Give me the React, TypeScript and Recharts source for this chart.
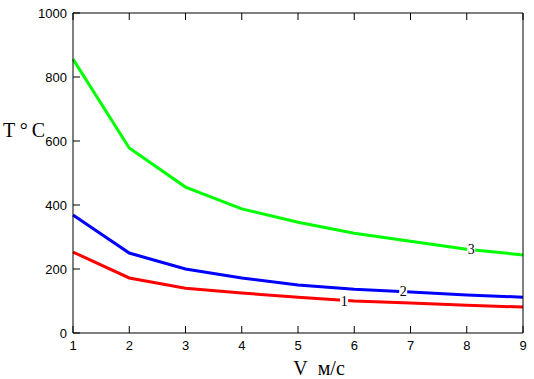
import { LineChart, Line, XAxis, YAxis, ReferenceDot } from "recharts";

const speeds = [1, 2, 3, 4, 5, 6, 7, 8, 9];
const curve1 = [253, 172, 140, 125, 112, 100, 94, 87, 81];
const curve2 = [369, 250, 200, 172, 150, 137, 128, 119, 112];
const curve3 = [856, 578, 456, 388, 346, 312, 287, 262, 244];
const yTicks = [0, 200, 400, 600, 800, 1000];

const curveLabels = [
  { v: 5.82, t: 100, text: "1" },
  { v: 6.87, t: 131, text: "2" },
  { v: 8.08, t: 262, text: "3" },
];

const data = speeds.map((v, i) => ({
  v,
  c1: curve1[i],
  c2: curve2[i],
  c3: curve3[i],
}));

const tickFont = {
  fontFamily: "'Liberation Sans Narrow', 'Arial Narrow', 'Liberation Sans', sans-serif",
  fontSize: 13,
  fill: "#000",
};

const serif = "'Liberation Serif', 'Times New Roman', serif";
const TICK = 7;

// inward tick mark plus optional label, drawn from the axis position
function makeTick(side: "bottom" | "top" | "left" | "right", withLabel: boolean) {
  return (props: any) => {
    const { x, y, payload } = props;
    let line;
    if (side === "bottom") line = <line x1={x} y1={y} x2={x} y2={y - TICK} stroke="#000" />;
    else if (side === "top") line = <line x1={x} y1={y} x2={x} y2={y + TICK} stroke="#000" />;
    else if (side === "left") line = <line x1={x} y1={y} x2={x + TICK} y2={y} stroke="#000" />;
    else line = <line x1={x} y1={y} x2={x - TICK} y2={y} stroke="#000" />;
    return (
      <g>
        {line}
        {withLabel && side === "bottom" && (
          <text x={x} y={y + 12} textAnchor="middle" dominantBaseline="central" style={tickFont}>
            {payload.value}
          </text>
        )}
        {withLabel && side === "left" && (
          <text x={x - 6} y={y} textAnchor="end" dominantBaseline="central" style={tickFont}>
            {payload.value}
          </text>
        )}
      </g>
    );
  };
}

function CurveTag(props: any) {
  const { cx, cy, text } = props;
  return (
    <g>
      <rect x={cx - 4} y={cy - 7} width={8} height={14} fill="#fff" />
      <text
        x={cx}
        y={cy}
        textAnchor="middle"
        dominantBaseline="central"
        style={{ fontFamily: serif, fontSize: 14, fill: "#000" }}
      >
        {text}
      </text>
    </g>
  );
}

export default function App() {
  return (
    <div style={{ position: "absolute", left: 0, top: 0, background: "#fff" }}>
      <LineChart
        width={534}
        height={379}
        data={data}
        margin={{ top: 12, right: 10, bottom: 16, left: 0 }}
      >
        <XAxis
          dataKey="v"
          type="number"
          domain={[1, 9]}
          ticks={speeds}
          height={30}
          tickSize={0}
          tickMargin={0}
          tickLine={false}
          tick={makeTick("bottom", true)}
          stroke="#000"
          label={{
            value: "V\u00a0\u00a0м/с",
            position: "bottom",
            offset: -2,
            dx: 21,
            style: { fontFamily: serif, fontSize: 20, fill: "#000" },
          }}
        />
        <XAxis
          xAxisId="top"
          orientation="top"
          dataKey="v"
          type="number"
          domain={[1, 9]}
          ticks={speeds}
          height={1}
          tickSize={0}
          tickMargin={0}
          tickLine={false}
          tick={makeTick("top", false)}
          stroke="#000"
        />
        <YAxis
          type="number"
          domain={[0, 1000]}
          ticks={yTicks}
          width={73}
          tickSize={0}
          tickMargin={0}
          tickLine={false}
          tick={makeTick("left", true)}
          stroke="#000"
          label={{
            value: "T °\u2009C",
            position: "insideLeft",
            offset: 3,
            dy: -43,
            style: { fontFamily: serif, fontSize: 20, fill: "#000" },
          }}
        />
        <YAxis
          yAxisId="right"
          orientation="right"
          type="number"
          domain={[0, 1000]}
          ticks={yTicks}
          width={1}
          tickSize={0}
          tickMargin={0}
          tickLine={false}
          tick={makeTick("right", false)}
          stroke="#000"
        />
        <Line dataKey="c1" stroke="#ff0000" strokeWidth={3} dot={false} isAnimationActive={false} />
        <Line dataKey="c2" stroke="#0000ff" strokeWidth={3} dot={false} isAnimationActive={false} />
        <Line dataKey="c3" stroke="#00ff00" strokeWidth={3} dot={false} isAnimationActive={false} />
        {curveLabels.map((l) => (
          <ReferenceDot
            key={l.text}
            x={l.v}
            y={l.t}
            r={0}
            shape={(p: any) => <CurveTag {...p} text={l.text} />}
          />
        ))}
      </LineChart>
    </div>
  );
}
